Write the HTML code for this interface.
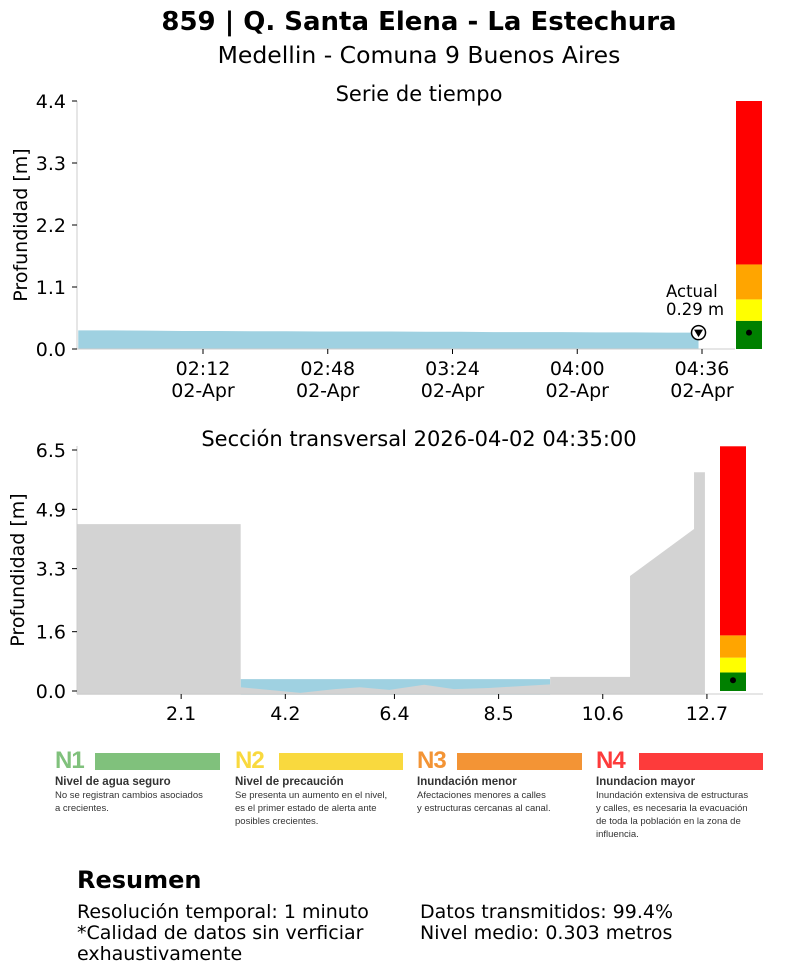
<!DOCTYPE html>
<html><head><meta charset="utf-8"><style>
body{margin:0;background:#fff;width:812px;height:973px;overflow:hidden;font-family:"DejaVu Sans","Liberation Sans",sans-serif}
svg{position:absolute;left:0;top:0}
.lg{position:absolute;top:748px;width:175px;font-family:"Liberation Sans",sans-serif}
.lg .n{font-size:24px;font-weight:bold;letter-spacing:-1px;line-height:26px;font-family:"Liberation Sans Narrow","Liberation Sans",sans-serif}
.lg .bar{position:absolute;top:5px;height:17px}
.lg .h{font-size:11.5px;font-weight:bold;color:#333;margin-top:1px;line-height:14px}
.lg .d{font-size:9.5px;color:#333;line-height:13px}
.sum{position:absolute;font-size:19px;color:#000;line-height:21px}
</style></head><body>
<svg id="s" width="812" height="973"></svg>

<div class="lg" style="left:55px"><div class="n" style="color:#80c17c">N1</div><div class="bar" style="left:40px;width:125px;background:#80c17c"></div><div class="h">Nivel de agua seguro</div><div class="d">No se registran cambios asociados<br>a crecientes.</div></div>
<div class="lg" style="left:235px"><div class="n" style="color:#f9d93e">N2</div><div class="bar" style="left:44px;width:124px;background:#f9d93e"></div><div class="h">Nivel de precaución</div><div class="d">Se presenta un aumento en el nivel,<br>es el primer estado de alerta ante<br>posibles crecientes.</div></div>
<div class="lg" style="left:417px"><div class="n" style="color:#f39435">N3</div><div class="bar" style="left:40px;width:125px;background:#f39435"></div><div class="h">Inundación menor</div><div class="d">Afectaciones menores a calles<br>y estructuras cercanas al canal.</div></div>
<div class="lg" style="left:596px"><div class="n" style="color:#fd3b3b">N4</div><div class="bar" style="left:43px;width:124px;background:#fd3b3b"></div><div class="h">Inundacion mayor</div><div class="d">Inundación extensiva de estructuras<br>y calles, es necesaria la evacuación<br>de toda la población en la zona de<br>influencia.</div></div>

<div class="sum" style="left:77px;top:866px;font-size:24px;font-weight:bold;line-height:28px">Resumen</div>
<div class="sum" style="left:77px;top:902px">Resolución temporal: 1 minuto<br>*Calidad de datos sin verficiar<br>exhaustivamente</div>
<div class="sum" style="left:420px;top:902px">Datos transmitidos: 99.4%<br>Nivel medio: 0.303 metros</div>

<script>
// ---- time series data (minutes since 00:00, depth m)
const tsMinutes=[96,106,116,126,136,146,156,166,176,186,196,206,216,226,236,246,256,266,275];
const tsDepth=[0.33,0.33,0.325,0.32,0.32,0.315,0.315,0.31,0.31,0.31,0.305,0.305,0.30,0.30,0.30,0.295,0.295,0.29,0.29];
const tsTickMinutes=[132,168,204,240,276];
const tsTickLabels=["02:12","02:48","03:24","04:00","04:36"];
const tsYTicks=[0,1.1,2.2,3.3,4.4];
const currentDepth=0.29;
const levelThresholds=[0.5,0.88,1.5];
// ---- cross section data
const xsDist=[0,3.3,3.3,4.5,5.2,5.7,6.3,7.0,7.6,8.3,9.54,9.54,11.15,11.15,12.44,12.44,12.66,12.66];
const xsGround=[4.5,4.5,0.1,-0.05,0.05,0.1,0.03,0.17,0.05,0.08,0.18,0.38,0.38,3.1,4.37,5.9,5.9,0];
const xsWaterLevel=0.32;
const xsWaterFrom=3.3, xsWaterTo=9.54;
const xsXTicks=[2.1,4.2,6.4,8.5,10.6,12.7];
const xsYTicks=[0,1.6,3.3,4.9,6.5];
const xsThresholds=[0.5,0.9,1.5];

const S=document.getElementById('s');const NS='http://www.w3.org/2000/svg';
function mk(t,a,txt){const e=document.createElementNS(NS,t);for(const k in a)e.setAttribute(k,a[k]);if(txt!==undefined)e.textContent=txt;S.appendChild(e);return e;}
function T(x,y,s,txt,anchor,extra){return mk('text',Object.assign({x:x,y:y,'font-size':s,'text-anchor':anchor||'middle',fill:'#000'},extra||{}),txt);}

let e;
e=T(419,30,26,"859 | Q. Santa Elena - La Estechura",'middle',{'font-weight':'bold'});


e=T(419,63,23.5,"Medellin - Comuna 9 Buenos Aires");



// ---- top chart axes
const tx=m=>203+(m-132)*124.75/36;
const ty=v=>349-v*(248/4.4);
e=T(419,101,21,"Serie de tiempo");


let pts=tsMinutes.map((m,i)=>tx(m)+','+ty(tsDepth[i])).join(' ');
pts=tx(tsMinutes[0])+','+ty(0)+' '+pts+' '+tx(tsMinutes[tsMinutes.length-1])+','+ty(0);
e=mk('polygon',{points:pts,fill:'#9fd1e1'});


mk('line',{x1:77,y1:101,x2:77,y2:349,stroke:'#ccc'});
mk('line',{x1:77,y1:349,x2:735,y2:349,stroke:'#ccc'});
tsYTicks.forEach(v=>{mk('line',{x1:72,x2:77,y1:ty(v),y2:ty(v),stroke:'#000'});
 e=T(66,ty(v)+7,19,v.toFixed(1),'end');
 
 });
tsTickMinutes.forEach((m,i)=>{mk('line',{x1:tx(m),x2:tx(m),y1:349,y2:354,stroke:'#000'});
 e=T(tx(m),375,19,tsTickLabels[i]);
 
 
 T(tx(m),397,19,"02-Apr");});
e=T(27,225,19,"Profundidad [m]",'middle',{transform:'rotate(-90 27 225)'});


// current marker
const cx=tx(tsMinutes[tsMinutes.length-1]),cy=ty(currentDepth);
mk('circle',{cx:cx,cy:cy,r:7,fill:'#fff',stroke:'#000','stroke-width':1.5});
e=mk('polygon',{points:(cx-4.5)+','+(cy-3)+' '+(cx+4.5)+','+(cy-3)+' '+cx+','+(cy+4.5),fill:'#000'});


T(666,297,16.5,"Actual",'start');T(666,315,16.5,currentDepth.toFixed(2)+" m",'start');
function levelBar(x,w,yf,top,th,val){
 const cols=['#008000','#ffff00','#ffa500','#ff0000'];const b=[0].concat(th).concat([top]);
 for(let i=0;i<4;i++){e=mk('rect',{x:x,y:yf(b[i+1]),width:w,height:yf(b[i])-yf(b[i+1]),fill:cols[i]});
  
  }
 mk('circle',{cx:x+w/2,cy:yf(val),r:3,fill:'#000'});
}
levelBar(736,26,ty,4.4,levelThresholds,currentDepth);

// ---- cross section
const xx=d=>77+d*49.6;
const xy=v=>691-v*(241/6.5);
e=T(419,446,21,"Sección transversal 2026-04-02 04:35:00");


e=mk('polygon',{points:xx(xsWaterFrom)+','+xy(xsWaterLevel)+' '+xx(xsWaterTo)+','+xy(xsWaterLevel)+' '+xx(xsWaterTo)+','+xy(-0.1)+' '+xx(xsWaterFrom)+','+xy(-0.1),fill:'#9fd1e1'});


let gp=xsDist.map((d,i)=>xx(d)+','+xy(xsGround[i])).join(' ');
gp=xx(0)+','+xy(-0.1)+' '+gp+' '+xx(xsDist[xsDist.length-1])+','+xy(-0.1);
e=mk('polygon',{points:gp,fill:'#d3d3d3'});


mk('line',{x1:77,y1:446,x2:77,y2:694,stroke:'#ccc'});
mk('line',{x1:77,y1:694,x2:763,y2:694,stroke:'#ccc'});
xsYTicks.forEach(v=>{mk('line',{x1:72,x2:77,y1:xy(v),y2:xy(v),stroke:'#000'});
 e=T(66,xy(v)+7,19,v.toFixed(1),'end');
 
 });
xsXTicks.forEach(v=>{mk('line',{x1:xx(v),x2:xx(v),y1:694,y2:699,stroke:'#000'});
 e=T(xx(v),720,19,v.toFixed(1));
 
 });
e=T(24,570,19,"Profundidad [m]",'middle',{transform:'rotate(-90 24 570)'});


levelBar(720,26,xy,6.6,xsThresholds,currentDepth);
</script>
</body></html>
